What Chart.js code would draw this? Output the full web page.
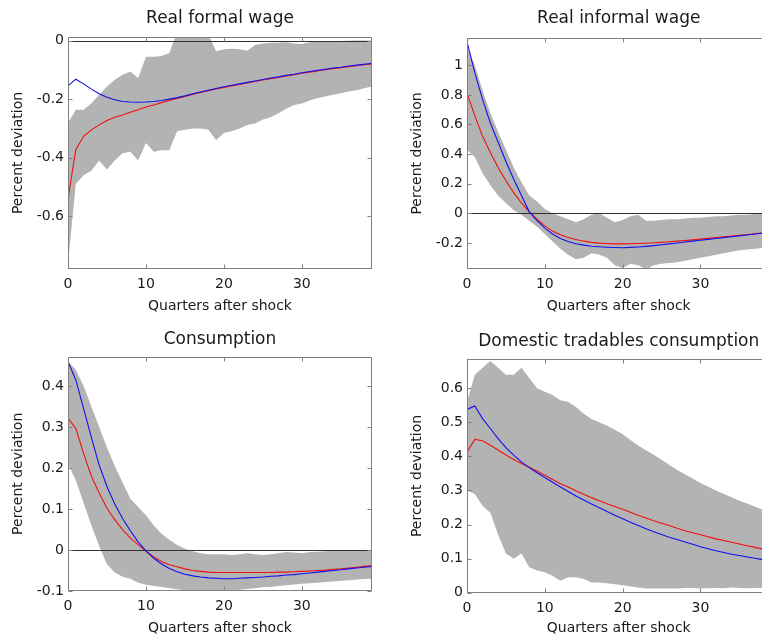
<!DOCTYPE html>
<html>
<head>
<meta charset="utf-8">
<title>Impulse responses</title>
<script src="https://cdn.jsdelivr.net/npm/chart.js@4/dist/chart.umd.min.js"></script>
<style>
  html, body { margin: 0; padding: 0; background: #fff; overflow: hidden; width: 762px; height: 639px; }
  canvas { position: absolute; }
</style>
</head>
<body>
<canvas id="formal" width="381" height="320" style="left:0px;top:0px"></canvas>
<canvas id="informal" width="380" height="320" style="left:399px;top:0px"></canvas>
<canvas id="consumption" width="381" height="319" style="left:0px;top:320px"></canvas>
<canvas id="tradables" width="380" height="319" style="left:399px;top:320px"></canvas>
<script>
// Horizon (quarters after the shock) and axis ticks
const quarters = [0,1,2,3,4,5,6,7,8,9,10,11,12,13,14,15,16,17,18,19,20,21,22,23,24,25,26,27,28,29,30,31,32,33,34,35,36,37,38,39];
const quarterTicks = [0, 10, 20, 30];

// Real formal wage
const formalWageRed  = [-0.54,-0.373,-0.327,-0.305,-0.288,-0.273,-0.262,-0.254,-0.245,-0.236,-0.227,-0.22,-0.212,-0.205,-0.198,-0.191,-0.184,-0.177,-0.171,-0.165,-0.16,-0.155,-0.15,-0.145,-0.14,-0.135,-0.13,-0.126,-0.121,-0.117,-0.112,-0.108,-0.104,-0.1,-0.096,-0.093,-0.089,-0.086,-0.083,-0.08];
const formalWageBlue = [-0.155,-0.132,-0.148,-0.166,-0.182,-0.194,-0.202,-0.208,-0.21,-0.211,-0.21,-0.208,-0.205,-0.2,-0.195,-0.189,-0.182,-0.176,-0.17,-0.164,-0.158,-0.153,-0.148,-0.143,-0.138,-0.133,-0.128,-0.124,-0.119,-0.115,-0.11,-0.106,-0.102,-0.098,-0.094,-0.091,-0.087,-0.084,-0.081,-0.078];
const formalWageLow  = [-0.76,-0.49,-0.46,-0.445,-0.41,-0.44,-0.41,-0.385,-0.38,-0.41,-0.35,-0.38,-0.375,-0.375,-0.31,-0.305,-0.3,-0.3,-0.305,-0.34,-0.316,-0.31,-0.3,-0.288,-0.283,-0.27,-0.262,-0.248,-0.233,-0.22,-0.215,-0.205,-0.197,-0.191,-0.185,-0.18,-0.174,-0.17,-0.163,-0.157];
const formalWageHigh = [-0.282,-0.236,-0.236,-0.214,-0.185,-0.157,-0.134,-0.117,-0.106,-0.128,-0.055,-0.055,-0.053,-0.043,0.03,0.03,0.03,0.03,0.02,-0.037,-0.03,-0.028,-0.03,-0.035,-0.015,-0.01,-0.008,-0.008,-0.006,-0.01,-0.012,-0.006,-0.004,-0.003,-0.002,-0.002,-0.001,0,0,0];
const formalWageTicks = [-0.6, -0.4, -0.2, 0];

// Real informal wage
const informalWageRed  = [0.81,0.66,0.52,0.41,0.31,0.22,0.14,0.07,0.01,-0.04,-0.085,-0.12,-0.145,-0.163,-0.177,-0.188,-0.196,-0.201,-0.204,-0.206,-0.206,-0.205,-0.204,-0.202,-0.199,-0.196,-0.192,-0.188,-0.184,-0.179,-0.174,-0.169,-0.164,-0.158,-0.153,-0.148,-0.143,-0.138,-0.133,-0.128];
const informalWageBlue = [1.16,0.95,0.77,0.61,0.48,0.35,0.23,0.12,0.01,-0.05,-0.1,-0.14,-0.17,-0.19,-0.205,-0.215,-0.222,-0.226,-0.229,-0.231,-0.232,-0.23,-0.227,-0.223,-0.218,-0.212,-0.206,-0.2,-0.194,-0.188,-0.182,-0.176,-0.17,-0.164,-0.158,-0.152,-0.146,-0.14,-0.134,-0.128];
const informalWageLow  = [0.43,0.38,0.27,0.19,0.12,0.07,0.02,-0.01,-0.05,-0.09,-0.14,-0.19,-0.24,-0.28,-0.31,-0.3,-0.27,-0.28,-0.3,-0.35,-0.37,-0.34,-0.35,-0.38,-0.35,-0.34,-0.335,-0.33,-0.32,-0.31,-0.3,-0.29,-0.28,-0.27,-0.26,-0.25,-0.245,-0.24,-0.235,-0.23];
const informalWageHigh = [1.12,1.0,0.83,0.68,0.55,0.43,0.31,0.21,0.12,0.08,0.03,0.0,-0.02,-0.04,-0.06,-0.04,-0.01,0.0,-0.03,-0.06,-0.045,-0.02,-0.01,-0.05,-0.05,-0.045,-0.04,-0.04,-0.035,-0.03,-0.03,-0.025,-0.02,-0.02,-0.015,-0.01,-0.01,-0.005,-0.005,0];
const informalWageTicks = [-0.2, 0, 0.2, 0.4, 0.6, 0.8, 1];

// Consumption
const consumptionRed  = [0.322,0.297,0.236,0.18,0.139,0.102,0.074,0.05,0.029,0.013,-0.003,-0.017,-0.028,-0.036,-0.041,-0.046,-0.05,-0.052,-0.054,-0.055,-0.055,-0.055,-0.055,-0.055,-0.055,-0.055,-0.055,-0.054,-0.054,-0.053,-0.052,-0.051,-0.05,-0.049,-0.047,-0.046,-0.044,-0.042,-0.04,-0.038];
const consumptionBlue = [0.46,0.415,0.345,0.275,0.207,0.155,0.112,0.077,0.047,0.02,-0.002,-0.02,-0.034,-0.045,-0.053,-0.059,-0.063,-0.066,-0.068,-0.069,-0.07,-0.07,-0.069,-0.068,-0.067,-0.066,-0.064,-0.063,-0.061,-0.06,-0.058,-0.056,-0.054,-0.052,-0.05,-0.048,-0.046,-0.044,-0.042,-0.04];
const consumptionLow  = [0.21,0.17,0.115,0.06,0.01,-0.035,-0.055,-0.065,-0.07,-0.08,-0.085,-0.088,-0.09,-0.093,-0.096,-0.098,-0.1,-0.102,-0.103,-0.102,-0.1,-0.099,-0.097,-0.095,-0.093,-0.091,-0.09,-0.088,-0.086,-0.084,-0.082,-0.081,-0.08,-0.078,-0.077,-0.075,-0.074,-0.072,-0.071,-0.07];
const consumptionHigh = [0.46,0.44,0.4,0.35,0.3,0.25,0.205,0.165,0.125,0.105,0.085,0.06,0.04,0.025,0.012,0.003,-0.003,-0.008,-0.01,-0.01,-0.01,-0.012,-0.01,-0.008,-0.01,-0.012,-0.01,-0.008,-0.005,-0.006,-0.008,-0.005,-0.004,-0.003,-0.002,-0.002,-0.001,0,0,0];
const consumptionTicks = [-0.1, 0, 0.1, 0.2, 0.3, 0.4];

// Domestic tradables consumption
const tradablesRed  = [0.412,0.45,0.446,0.433,0.419,0.404,0.391,0.379,0.368,0.357,0.345,0.332,0.32,0.31,0.299,0.289,0.279,0.27,0.261,0.253,0.245,0.236,0.227,0.219,0.211,0.204,0.197,0.189,0.182,0.176,0.17,0.164,0.158,0.153,0.148,0.143,0.138,0.133,0.128,0.124];
const tradablesBlue = [0.538,0.548,0.511,0.482,0.452,0.426,0.404,0.384,0.367,0.352,0.338,0.324,0.31,0.297,0.284,0.272,0.26,0.249,0.238,0.227,0.217,0.207,0.197,0.188,0.179,0.171,0.163,0.156,0.149,0.142,0.135,0.129,0.123,0.118,0.113,0.109,0.105,0.101,0.097,0.094];
const tradablesLow  = [0.3,0.29,0.255,0.235,0.17,0.115,0.1,0.115,0.075,0.065,0.06,0.05,0.035,0.045,0.045,0.04,0.03,0.03,0.028,0.025,0.022,0.018,0.015,0.012,0.012,0.012,0.012,0.012,0.014,0.014,0.012,0.013,0.014,0.013,0.015,0.014,0.013,0.014,0.014,0.013];
const tradablesHigh = [0.56,0.64,0.66,0.68,0.66,0.64,0.64,0.66,0.63,0.6,0.59,0.58,0.565,0.56,0.545,0.525,0.51,0.5,0.49,0.478,0.465,0.448,0.432,0.418,0.405,0.39,0.375,0.36,0.348,0.335,0.322,0.311,0.3,0.29,0.28,0.27,0.262,0.252,0.244,0.236];
const tradablesTicks = [0, 0.1, 0.2, 0.3, 0.4, 0.5, 0.6];

const FONT = 'DejaVu Sans, Liberation Sans, sans-serif';
const TEXT = '#1a1a1a';
const BAND = '#b3b3b3';
const RED = '#f01010';
const BLUE = '#1010f0';
const FRAME = '#808080';

Chart.defaults.font.family = FONT;
Chart.defaults.font.size = 14;
Chart.defaults.color = TEXT;

// Box around the axes with inward tick marks on all four sides,
// plus a thin reference line at zero drawn just under the response lines.
const boxedAxes = {
  id: 'boxedAxes',
  beforeDatasetDraw(chart, args) {
    if (args.index !== 2) return;
    const { ctx, chartArea: a, scales: { y } } = chart;
    const py = Math.round(y.getPixelForValue(0)) + 0.5;
    if (py < a.top || py > a.bottom) return;
    ctx.save();
    ctx.strokeStyle = '#303030';
    ctx.lineWidth = 1;
    ctx.beginPath();
    ctx.moveTo(a.left, py);
    ctx.lineTo(a.right, py);
    ctx.stroke();
    ctx.restore();
  },
  afterDatasetsDraw(chart) {
    const { ctx, chartArea: a, scales: { x, y } } = chart;
    const L = Math.round(a.left) + 0.5, R = Math.round(a.right) - 0.5;
    const T = Math.round(a.top) + 0.5, B = Math.round(a.bottom) - 0.5;
    const len = 4;
    ctx.save();
    ctx.strokeStyle = FRAME;
    ctx.lineWidth = 1;
    ctx.strokeRect(L, T, R - L, B - T);
    ctx.beginPath();
    x.ticks.forEach(t => {
      const px = Math.round(x.getPixelForValue(t.value)) + 0.5;
      ctx.moveTo(px, B); ctx.lineTo(px, B - len);
      ctx.moveTo(px, T); ctx.lineTo(px, T + len);
    });
    y.ticks.forEach(t => {
      const py = Math.round(y.getPixelForValue(t.value)) + 0.5;
      ctx.moveTo(L, py); ctx.lineTo(L + len, py);
      ctx.moveTo(R, py); ctx.lineTo(R - len, py);
    });
    ctx.stroke();
    ctx.restore();
  }
};

const panels = [
  { id: 'formal', title: 'Real formal wage', red: formalWageRed, blue: formalWageBlue,
    low: formalWageLow, high: formalWageHigh, ticks: formalWageTicks, yMin: -0.78, yMax: 0.012,
    yAxisW: 68, rightPad: 9, titlePad: { top: 8, bottom: 8.6 }, xAxisH: 51, xTitlePad: 5.6 },
  { id: 'informal', title: 'Real informal wage', red: informalWageRed, blue: informalWageBlue,
    low: informalWageLow, high: informalWageHigh, ticks: informalWageTicks, yMin: -0.378, yMax: 1.186,
    yAxisW: 68, rightPad: 8.5, titlePad: { top: 8, bottom: 9.3 }, xAxisH: 50.7, xTitlePad: 5.6 },
  { id: 'consumption', title: 'Consumption', red: consumptionRed, blue: consumptionBlue,
    low: consumptionLow, high: consumptionHigh, ticks: consumptionTicks, yMin: -0.099, yMax: 0.471,
    yAxisW: 68, rightPad: 9, titlePad: { top: 9.8, bottom: 6.8 }, xAxisH: 48.4, xTitlePad: 2.6 },
  { id: 'tradables', title: 'Domestic tradables consumption', red: tradablesRed, blue: tradablesBlue,
    low: tradablesLow, high: tradablesHigh, ticks: tradablesTicks, yMin: 0, yMax: 0.685,
    yAxisW: 68, rightPad: 8.5, titlePad: { top: 11.3, bottom: 7.6 }, xAxisH: 46.3, xTitlePad: 2.6 }
];

const points = vals => quarters.map((q, i) => ({ x: q, y: vals[i] }));

panels.forEach(p => {
  new Chart(document.getElementById(p.id), {
    type: 'line',
    data: {
      datasets: [
        { data: points(p.high), fill: '+1', backgroundColor: BAND, borderWidth: 0, pointRadius: 0, order: 4 },
        { data: points(p.low), fill: false, borderWidth: 0, pointRadius: 0, order: 3 },
        { data: points(p.red), fill: false, borderColor: RED, borderWidth: 1.1, pointRadius: 0, tension: 0, order: 2 },
        { data: points(p.blue), fill: false, borderColor: BLUE, borderWidth: 1.1, pointRadius: 0, tension: 0, order: 1 }
      ]
    },
    options: {
      responsive: false,
      animation: false,
      events: [],
      layout: { padding: { left: 0, right: p.rightPad, top: 0, bottom: 0 } },
      plugins: {
        legend: { display: false },
        tooltip: { enabled: false },
        title: {
          display: true, text: p.title, fullSize: false, color: TEXT,
          font: { size: 17, weight: 'normal', family: FONT }, padding: p.titlePad
        }
      },
      scales: {
        x: {
          type: 'linear', min: 0, max: 39,
          afterBuildTicks: s => { s.ticks = quarterTicks.map(v => ({ value: v })); },
          afterFit: s => { s.height = p.xAxisH; },
          grid: { display: false, drawTicks: false },
          border: { display: false },
          ticks: { padding: 7, maxRotation: 0, autoSkip: false, color: TEXT, callback: v => String(v) },
          title: { display: true, text: 'Quarters after shock', color: TEXT, padding: { top: 0, bottom: p.xTitlePad } }
        },
        y: {
          type: 'linear', min: p.yMin, max: p.yMax,
          afterBuildTicks: s => { s.ticks = p.ticks.map(v => ({ value: v })); },
          afterFit: s => { s.width = p.yAxisW; },
          grid: { display: false, drawTicks: false },
          border: { display: false },
          ticks: { padding: 4, autoSkip: false, color: TEXT, callback: v => String(v) },
          title: { display: true, text: 'Percent deviation', color: TEXT, padding: { top: 10, bottom: 0 } }
        }
      }
    },
    plugins: [boxedAxes]
  });
});
</script>
</body>
</html>
